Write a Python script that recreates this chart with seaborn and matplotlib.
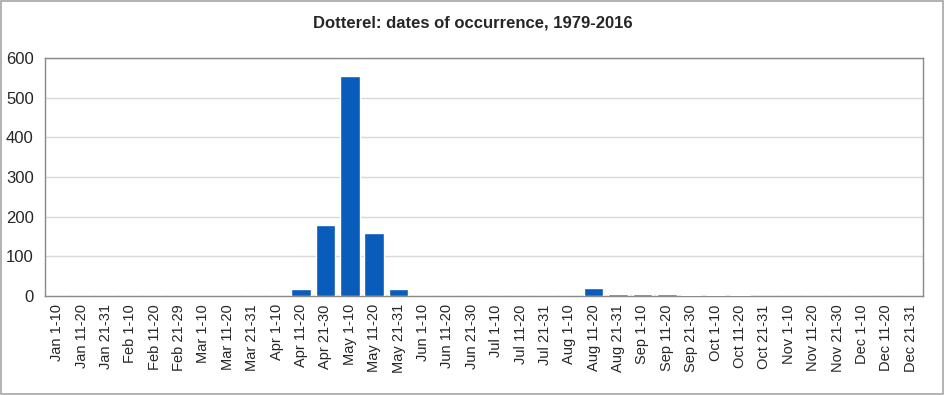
import seaborn as sns
import matplotlib.pyplot as plt
import pandas as pd
from matplotlib.patches import Rectangle

# periods and counts
periods = ['Jan 1-10', 'Jan 11-20', 'Jan 21-31', 'Feb 1-10', 'Feb 11-20', 'Feb 21-29',
           'Mar 1-10', 'Mar 11-20', 'Mar 21-31', 'Apr 1-10', 'Apr 11-20', 'Apr 21-30',
           'May 1-10', 'May 11-20', 'May 21-31', 'Jun 1-10', 'Jun 11-20', 'Jun 21-30',
           'Jul 1-10', 'Jul 11-20', 'Jul 21-31', 'Aug 1-10', 'Aug 11-20', 'Aug 21-31',
           'Sep 1-10', 'Sep 11-20', 'Sep 21-30', 'Oct 1-10', 'Oct 11-20', 'Oct 21-31',
           'Nov 1-10', 'Nov 11-20', 'Nov 21-30', 'Dec 1-10', 'Dec 11-20', 'Dec 21-31']
counts = [0, 0, 0, 0, 0, 0,
          0, 0, 0, 0, 17, 180,
          555, 158, 17, 0, 0, 0,
          0, 0, 0, 0, 20, 5,
          5, 5, 3, 3, 3, 0,
          0, 0, 0, 0, 0, 0]

data = pd.DataFrame({'period': periods, 'count': counts})

sns.set_style('white')
plt.rcParams['font.family'] = ['Liberation Sans', 'DejaVu Sans']

fig = plt.figure(figsize=(9.45, 3.95), dpi=100)
ax = fig.add_axes([0.0476, 0.251, 0.929, 0.602])

sns.barplot(x='period', y='count', data=data, color='#0a5cba', saturation=1,
            width=0.8, ax=ax, zorder=3)

ax.set_ylim(0, 600)
ax.set_yticks(range(0, 601, 100))
ax.yaxis.grid(True, color='#d9d9d9', linewidth=1, zorder=0)
ax.set_axisbelow(True)
ax.set_xlim(-0.5, len(periods) - 0.5)
ax.set_xlabel('')
ax.set_ylabel('')
ax.tick_params(axis='x', labelrotation=90, labelsize=10.5, length=0, pad=6)
ax.tick_params(axis='y', labelsize=12, length=0, pad=8)
for s in ax.spines.values():
    s.set_color('#898989')
    s.set_linewidth(1)

fig.suptitle('Dotterel: dates of occurrence, 1979-2016', fontsize=12,
             fontweight='bold', x=0.5, y=0.96)

# outer frame
fig.patches.append(Rectangle((0.001, 0.002), 0.997, 0.995, transform=fig.transFigure,
                             fill=False, edgecolor='#a6a6a6', linewidth=1.2))

fig.savefig('out.png', dpi=100)
